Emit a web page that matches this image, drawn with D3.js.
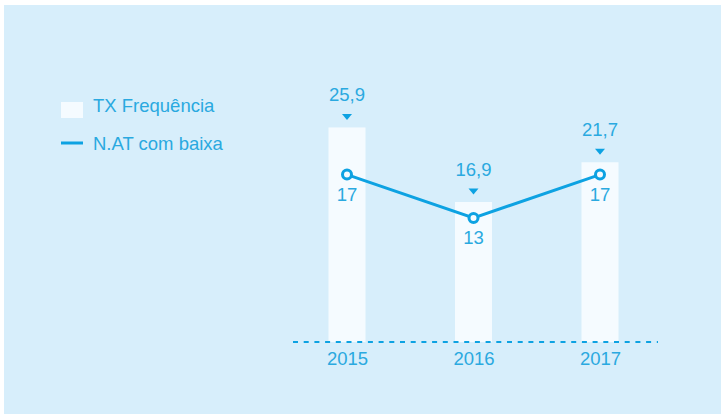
<!DOCTYPE html>
<html>
<head>
<meta charset="utf-8">
<script src="https://cdn.jsdelivr.net/npm/d3@7"></script>
<style>
  html, body { margin: 0; padding: 0; background: #ffffff; }
  svg { display: block; }
  text { font-family: "Liberation Sans", Helvetica, Arial, sans-serif; }
</style>
</head>
<body>
<script>
// Data
const years = ["2015", "2016", "2017"];
const txFrequencia = [25.9, 16.9, 21.7];   // bars
const natComBaixa = [17, 13, 17];          // line
const seriesNames = ["TX Frequência", "N.AT com baixa"];

const W = 721, H = 414;
const bgColor = "#d7eefb";
const barColor = "#f5fbff";
const lineColor = "#0da2e2";
const textColor = "#2aa9e0";

const fmt = v => String(v).replace(".", ",");

const svg = d3.select("body").append("svg")
  .attr("width", W).attr("height", H);

// panel background
svg.append("rect")
  .attr("x", 4).attr("y", 5)
  .attr("width", W - 4).attr("height", H - 5)
  .attr("fill", bgColor);

const baseY = 342;
const x = d3.scalePoint().domain(years).range([347, 600]);
const yBar = d3.scaleLinear().domain([0, 30]).range([baseY, baseY - 248.5]);
const yLine = d3.scaleLinear().domain([0, 20]).range([359, 142]);
const barW = 37;

// bars
svg.append("g").selectAll("rect")
  .data(years)
  .join("rect")
  .attr("x", d => x(d) - barW / 2)
  .attr("y", (d, i) => yBar(txFrequencia[i]))
  .attr("width", barW)
  .attr("height", (d, i) => baseY - yBar(txFrequencia[i]))
  .attr("fill", barColor);

// dashed baseline
svg.append("line")
  .attr("x1", 293).attr("x2", 658)
  .attr("y1", baseY).attr("y2", baseY)
  .attr("stroke", lineColor)
  .attr("stroke-width", 2)
  .attr("stroke-dasharray", "5,5.7");

// x axis labels
const xAxis = d3.axisBottom(x).tickSize(0).tickPadding(0);
const gx = svg.append("g").attr("transform", `translate(0,${baseY + 10})`).call(xAxis);
gx.select(".domain").remove();
gx.selectAll("text")
  .attr("dy", "0.71em")
  .attr("y", 0)
  .attr("fill", textColor)
  .style("font-size", "18.5px")
  .style("font-family", "'Liberation Sans', Helvetica, Arial, sans-serif");

// bar value labels with pointer triangles
const barLabels = svg.append("g");
years.forEach((yr, i) => {
  const cx = x(yr);
  const top = yBar(txFrequencia[i]);
  barLabels.append("text")
    .attr("x", cx).attr("y", top - 26)
    .attr("text-anchor", "middle")
    .attr("fill", textColor)
    .style("font-size", "18.5px")
    .text(fmt(txFrequencia[i]));
  barLabels.append("path")
    .attr("d", `M${cx - 5},${top - 13.5}L${cx + 5},${top - 13.5}L${cx},${top - 7.5}Z`)
    .attr("fill", lineColor);
});

// line series
const line = d3.line()
  .x((d, i) => x(years[i]))
  .y(d => yLine(d));

svg.append("path")
  .datum(natComBaixa)
  .attr("d", line)
  .attr("fill", "none")
  .attr("stroke", lineColor)
  .attr("stroke-width", 3);

svg.append("g").selectAll("circle")
  .data(natComBaixa)
  .join("circle")
  .attr("cx", (d, i) => x(years[i]))
  .attr("cy", d => yLine(d))
  .attr("r", 4.5)
  .attr("fill", barColor)
  .attr("stroke", lineColor)
  .attr("stroke-width", 3);

svg.append("g").selectAll("text")
  .data(natComBaixa)
  .join("text")
  .attr("x", (d, i) => x(years[i]))
  .attr("y", d => yLine(d) + 26)
  .attr("text-anchor", "middle")
  .attr("fill", textColor)
  .style("font-size", "18.5px")
  .text(d => fmt(d));

// legend
const legend = svg.append("g");
legend.append("rect")
  .attr("x", 61).attr("y", 102)
  .attr("width", 22).attr("height", 16)
  .attr("fill", barColor);
legend.append("text")
  .attr("x", 93).attr("y", 112)
  .attr("fill", textColor)
  .style("font-size", "18.5px")
  .text(seriesNames[0]);
legend.append("line")
  .attr("x1", 61).attr("x2", 83)
  .attr("y1", 143).attr("y2", 143)
  .attr("stroke", lineColor)
  .attr("stroke-width", 3);
legend.append("text")
  .attr("x", 93).attr("y", 150)
  .attr("fill", textColor)
  .style("font-size", "18.5px")
  .text(seriesNames[1]);
</script>
</body>
</html>
